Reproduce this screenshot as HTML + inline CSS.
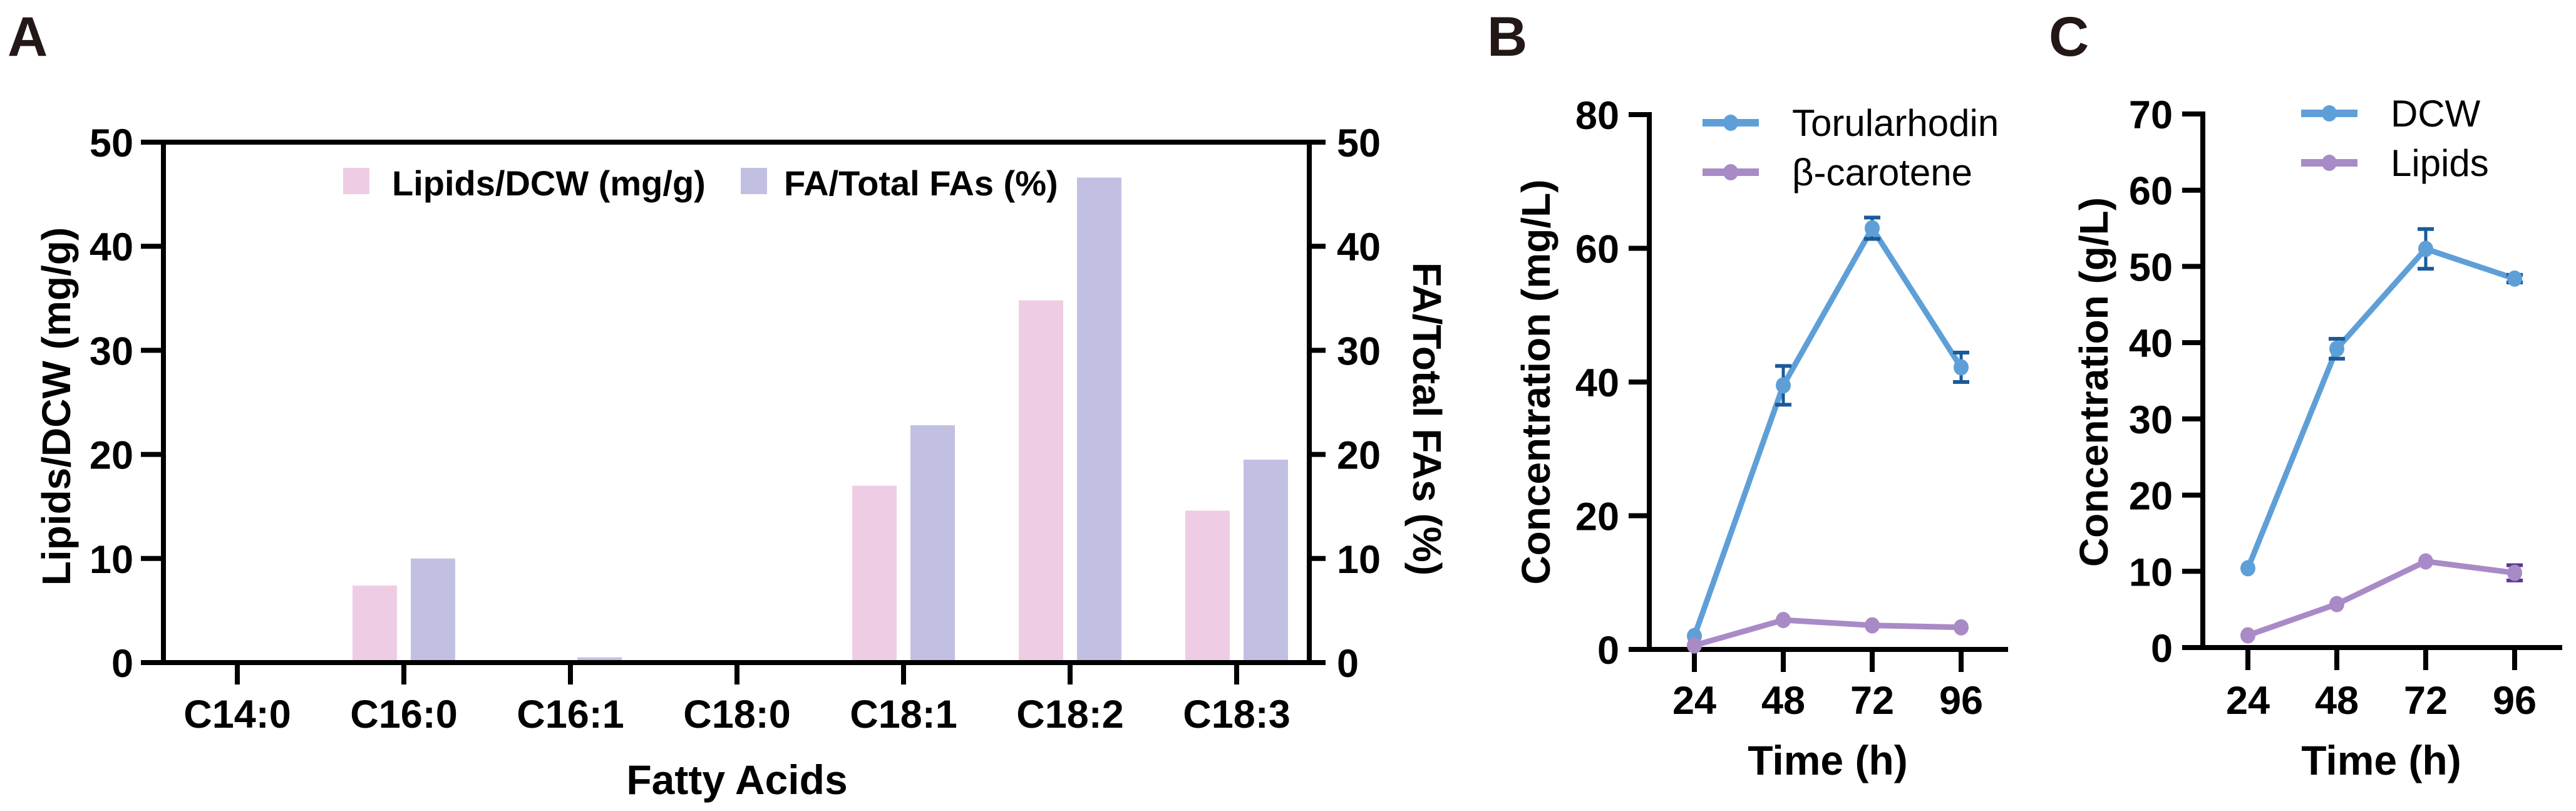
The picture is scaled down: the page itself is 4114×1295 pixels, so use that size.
<!DOCTYPE html>
<html><head><meta charset="utf-8"><style>
html,body{margin:0;padding:0;background:#fff;}
svg{display:block;font-family:"Liberation Sans",Arial,sans-serif;}
</style></head><body>
<svg id="fig" width="4114" height="1295" viewBox="0 0 4114 1295" xmlns="http://www.w3.org/2000/svg">
<rect width="4114" height="1295" fill="#fff"/>
<text x="12" y="89" font-size="89" font-weight="bold" fill="#231815">A</text>
<text x="2375" y="89" font-size="89" font-weight="bold" fill="#231815">B</text>
<text x="3272" y="89" font-size="89" font-weight="bold" fill="#231815">C</text>
<g id="pa"></g>
<g id="pb"></g>
<g id="pc"></g>
</svg>
<script>
// Panel A data
const faCategories = ["C14:0","C16:0","C16:1","C18:0","C18:1","C18:2","C18:3"];
const lipidsDcw = [0, 7.4, 0.2, 0, 17.0, 34.8, 14.6];
const faTotalPct = [0, 10.0, 0.5, 0, 22.8, 46.6, 19.5];
const aTicks = [0,10,20,30,40,50];
// Panel B data
const timePoints = [24,48,72,96];
const torularhodin = [2.0, 39.5, 63.0, 42.2];
const torularhodinErr = [0, 2.9, 1.6, 2.2];
const betaCarotene = [0.6, 4.4, 3.6, 3.3];
const betaCaroteneErr = [0, 0, 0, 0];
const bTicks = [0,20,40,60,80];
// Panel C data
const dcw = [10.4, 39.2, 52.3, 48.4];
const dcwErr = [0, 1.3, 2.6, 0.5];
const lipids = [1.6, 5.7, 11.3, 9.8];
const lipidsErr = [0, 0, 0, 1.0];
const cTicks = [0,10,20,30,40,50,60,70];

const NS="http://www.w3.org/2000/svg";
function mk(parent, tag, attrs, text){
  const e=document.createElementNS(NS,tag);
  for(const k in attrs) e.setAttribute(k,attrs[k]);
  if(text!==undefined) e.textContent=text;
  parent.appendChild(e); return e;
}
const BLUE="#5f9fd7", BLUEERR="#1a5a9a", PURPLE="#a88bc6", PURPLEERR="#5a3a96";

// ---------- Panel A ----------
(function(){
  const g=document.getElementById('pa');
  const x0=261, x1=2091, yTop=227, yZero=1058, vmax=50;
  const y=v=>yZero-(v/vmax)*(yZero-yTop);
  const cx=i=>379+i*266;
  // bars
  faCategories.forEach((c,i)=>{
    const r1=mk(g,'rect',{x:cx(i)-82,y:y(lipidsDcw[i]),width:71,height:yZero-y(lipidsDcw[i]),fill:"#eecde4"});
    
    
    const r2=mk(g,'rect',{x:cx(i)+11,y:y(faTotalPct[i]),width:71,height:yZero-y(faTotalPct[i]),fill:"#c2c0e2"});
    
    
  });
  // axes
  mk(g,'line',{x1:x0,y1:yTop-4,x2:x0,y2:yZero+4,stroke:"#000","stroke-width":8});
  mk(g,'line',{x1:x1,y1:yTop-4,x2:x1,y2:yZero+4,stroke:"#000","stroke-width":8});
  mk(g,'line',{x1:225,y1:yTop,x2:x1,y2:yTop,stroke:"#000","stroke-width":8});
  mk(g,'line',{x1:225,y1:yZero,x2:x1+26,y2:yZero,stroke:"#000","stroke-width":8});
  aTicks.forEach(t=>{
    mk(g,'line',{x1:225,y1:y(t),x2:x0,y2:y(t),stroke:"#000","stroke-width":8});
    mk(g,'line',{x1:x1,y1:y(t),x2:x1+26,y2:y(t),stroke:"#000","stroke-width":8});
    const l=mk(g,'text',{x:213,y:y(t)+23,"font-size":63,"font-weight":"bold","text-anchor":"end"},String(t));
    
    
    const r=mk(g,'text',{x:2135,y:y(t)+23,"font-size":63,"font-weight":"bold"},String(t));
    
    
  });
  faCategories.forEach((c,i)=>{
    mk(g,'line',{x1:cx(i),y1:yZero,x2:cx(i),y2:1093,stroke:"#000","stroke-width":8});
    const t=mk(g,'text',{x:cx(i),y:1162,"font-size":63,"font-weight":"bold","text-anchor":"middle"},c);
    
    
  });
  const xt=mk(g,'text',{x:1177,y:1268,"font-size":66,"font-weight":"bold","text-anchor":"middle"},"Fatty Acids");
  
  
  const yl=mk(g,'text',{transform:"translate(112,649) rotate(-90)","font-size":64,"font-weight":"bold","text-anchor":"middle"},"Lipids/DCW (mg/g)");
  
  
  const yr=mk(g,'text',{transform:"translate(2257,669) rotate(90)","font-size":64,"font-weight":"bold","text-anchor":"middle"},"FA/Total FAs (%)");
  
  
  // legend
  mk(g,'rect',{x:548,y:268,width:42,height:42,fill:"#eecde4"});
  const lg1=mk(g,'text',{x:626,y:312,"font-size":56,"font-weight":"bold"},"Lipids/DCW (mg/g)");
  
  
  mk(g,'rect',{x:1183,y:268,width:42,height:42,fill:"#c2c0e2"});
  const lg2=mk(g,'text',{x:1252,y:312,"font-size":56,"font-weight":"bold"},"FA/Total FAs (%)");
  
  
})();

// ---------- line panels ----------
function linePanel(id, cfg){
  const g=document.getElementById(id);
  const y=v=>cfg.yZero-(v/cfg.vmax)*(cfg.yZero-cfg.yTop);
  const x=i=>cfg.xFirst+i*cfg.dx;
  // axes
  mk(g,'line',{x1:cfg.ax,y1:cfg.yTop-4,x2:cfg.ax,y2:cfg.yZero+4,stroke:"#000","stroke-width":8});
  mk(g,'line',{x1:cfg.ax-33,y1:cfg.yZero,x2:cfg.xEnd,y2:cfg.yZero,stroke:"#000","stroke-width":8});
  cfg.ticks.forEach(t=>{
    mk(g,'line',{x1:cfg.ax-33,y1:y(t),x2:cfg.ax,y2:y(t),stroke:"#000","stroke-width":8});
    const l=mk(g,'text',{x:cfg.ax-48,y:y(t)+23,"font-size":63,"font-weight":"bold","text-anchor":"end"},String(t));
    
    
  });
  timePoints.forEach((tp,i)=>{
    mk(g,'line',{x1:x(i),y1:cfg.yZero,x2:x(i),y2:cfg.yZero+36,stroke:"#000","stroke-width":8});
    const l=mk(g,'text',{x:x(i),y:1140,"font-size":63,"font-weight":"bold","text-anchor":"middle"},String(tp));
    
    
  });
  const xt=mk(g,'text',{x:(x(0)+x(3))/2,y:1237,"font-size":66,"font-weight":"bold","text-anchor":"middle"},"Time (h)");
  
  
  const yt=mk(g,'text',{transform:`translate(${cfg.titleX},610) rotate(-90)`,"font-size":64,"font-weight":"bold","text-anchor":"middle"},cfg.yTitle);
  
  
  cfg.series.forEach((s,si)=>{
    const pts=s.vals.map((v,i)=>x(i)+","+y(v)).join(" ");
    const pl=mk(g,'polyline',{points:pts,fill:"none",stroke:s.color,"stroke-width":9,"stroke-linejoin":"round"});
    
    
    s.vals.forEach((v,i)=>{
      const e=s.err[i];
      if(e>0){
        mk(g,'line',{x1:x(i),y1:y(v+e),x2:x(i),y2:y(v-e),stroke:s.errColor,"stroke-width":5});
        mk(g,'line',{x1:x(i)-13,y1:y(v+e),x2:x(i)+13,y2:y(v+e),stroke:s.errColor,"stroke-width":6});
        mk(g,'line',{x1:x(i)-13,y1:y(v-e),x2:x(i)+13,y2:y(v-e),stroke:s.errColor,"stroke-width":6});
      }
      const c=mk(g,'ellipse',{cx:x(i),cy:y(v),rx:12,ry:13,fill:s.color});
      
      
    });
    // legend
    const ly=cfg.legY[si];
    mk(g,'line',{x1:cfg.legX,y1:ly,x2:cfg.legX+90,y2:ly,stroke:s.color,"stroke-width":12});
    mk(g,'ellipse',{cx:cfg.legX+45,cy:ly,rx:12,ry:13,fill:s.color});
    const lt=mk(g,'text',{x:cfg.legX+143,y:ly+21,"font-size":60},s.name);
    
    
  });
}
linePanel('pb',{ax:2634,yTop:183,yZero:1037,vmax:80,xFirst:2706,dx:142,xEnd:3207,ticks:bTicks,
  titleX:2475,yTitle:"Concentration (mg/L)",legX:2719,legY:[196,275],
  series:[{key:"torularhodin",name:"Torularhodin",vals:torularhodin,err:torularhodinErr,color:BLUE,errColor:BLUEERR},
          {key:"beta-carotene",name:"β-carotene",vals:betaCarotene,err:betaCaroteneErr,color:PURPLE,errColor:PURPLEERR}]});
linePanel('pc',{ax:3518,yTop:182,yZero:1034,vmax:70,xFirst:3590,dx:142,xEnd:4092,ticks:cTicks,
  titleX:3366,yTitle:"Concentration (g/L)",legX:3675,legY:[181,260],
  series:[{key:"dcw",name:"DCW",vals:dcw,err:dcwErr,color:BLUE,errColor:BLUEERR},
          {key:"lipids",name:"Lipids",vals:lipids,err:lipidsErr,color:PURPLE,errColor:PURPLEERR}]});
</script>
</body></html>
